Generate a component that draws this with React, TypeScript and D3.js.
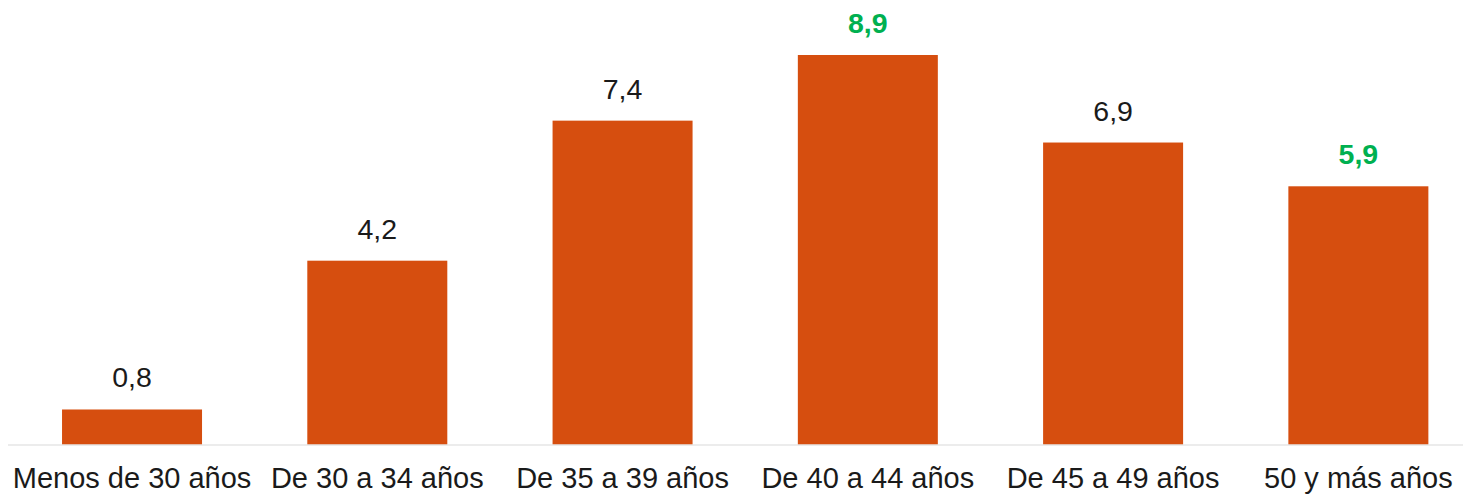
import React from "react";
import * as d3 from "d3";

const categories = [
  "Menos de 30 años",
  "De 30 a 34 años",
  "De 35 a 39 años",
  "De 40 a 44 años",
  "De 45 a 49 años",
  "50 y más años",
];
const values = [0.8, 4.2, 7.4, 8.9, 6.9, 5.9];
const highlighted = [false, false, false, true, false, true];

const W = 1463;
const H = 494;

export default function App() {
  const x = d3
    .scaleBand<string>()
    .domain(categories)
    .range([9.4, 1481])
    .paddingInner(0.4292)
    .paddingOuter(0.2146);
  const y = d3.scaleLinear().domain([0, 8.9]).range([444.5, 55]);
  const fmt = (v: number) => v.toFixed(1).replace(".", ",");
  const font = "'Liberation Sans', Arial, sans-serif";

  return (
    <svg
      width={W}
      height={H}
      style={{ position: "absolute", left: 0, top: 0, background: "#fff" }}
    >
      {categories.map((c, i) => (
        <rect
          key={c}
          x={x(c)}
          y={y(values[i])}
          width={x.bandwidth()}
          height={y(0) - y(values[i])}
          fill="#D64E0F"
        />
      ))}
      <line x1={8} x2={W} y1={445} y2={445} stroke="#D9D9D9" strokeWidth={1.2} />
      {categories.map((c, i) => (
        <text
          key={"v" + c}
          x={(x(c) as number) + x.bandwidth() / 2}
          y={y(values[i]) - 22}
          textAnchor="middle"
          fontFamily={font}
          fontSize={28.5}
          fontWeight={highlighted[i] ? "bold" : "normal"}
          fill={highlighted[i] ? "#00B050" : "#1a1a1a"}
        >
          {fmt(values[i])}
        </text>
      ))}
      {categories.map((c) => (
        <text
          key={"c" + c}
          x={(x(c) as number) + x.bandwidth() / 2}
          y={487.5}
          textAnchor="middle"
          fontFamily={font}
          fontSize={29}
          fill="#1a1a1a"
        >
          {c}
        </text>
      ))}
    </svg>
  );
}
